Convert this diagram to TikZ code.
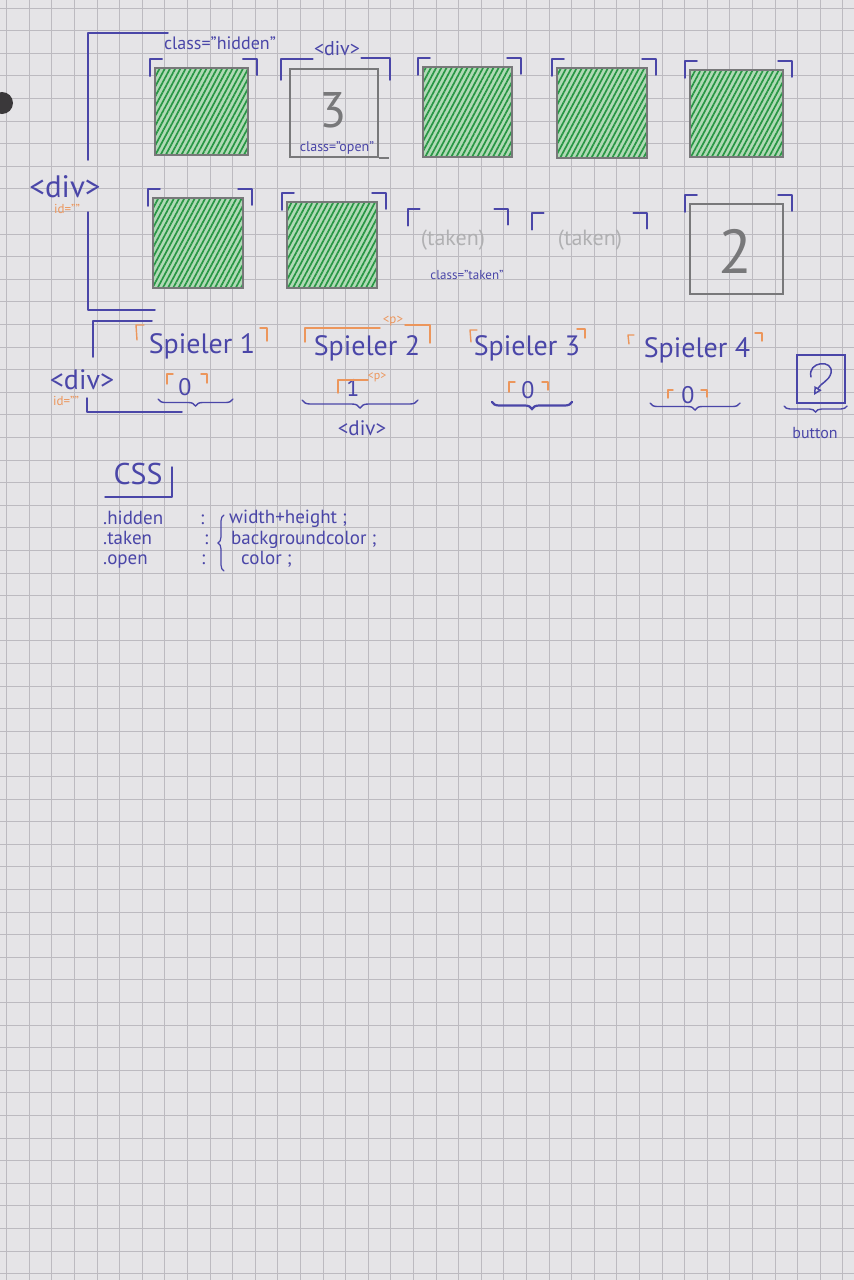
\documentclass[tikz,border=0pt]{standalone}
\usepackage{fontspec}
\setmainfont{PT Sans}
\usetikzlibrary{calc,patterns.meta,decorations.pathreplacing,arrows.meta}
\definecolor{paper}{RGB}{229,228,231}
\definecolor{gridline}{RGB}{188,186,192}
\definecolor{ink}{RGB}{74,70,168}
\definecolor{marker}{RGB}{236,150,92}
\definecolor{pencil}{RGB}{120,120,122}
\definecolor{faint}{RGB}{176,176,178}
\definecolor{greenfill}{RGB}{176,218,182}
\definecolor{greenline}{RGB}{40,150,68}
\definecolor{hole}{RGB}{58,56,58}

% corner ticks above a cell: left one and right one
\newcommand\cornerticks[1]{%
  \draw[bluemk] ($(#1.north west)+(-4,9)$) -- ++(0,-17) -- ++(12,0);
  \draw[bluemk] ($(#1.north east)+(-6,-8)$) -- ++(14,0) -- ++(0,16);
}

\begin{document}
\begin{tikzpicture}[x=1pt,y=-1pt,
  bluemk/.style={draw=ink, line width=1.5pt, line cap=round, line join=round},
  orangemk/.style={draw=marker, line width=1.4pt, line cap=round, line join=round},
  cell/.style={draw=pencil, line width=2pt, inner sep=0pt},
  hatched/.style={cell, pattern={Lines[angle=62,distance=4.6pt,line width=1.7pt]},
    pattern color=greenline, preaction={fill=greenfill}},
  blank/.style={inner sep=0pt},
  inktext/.style={text=ink, inner sep=1pt, font=\fontsize{#1}{#1}\selectfont},
  orangetext/.style={text=marker, inner sep=1pt, font=\fontsize{#1}{#1}\selectfont},
  penciltext/.style={text=pencil, inner sep=1pt, font=\fontsize{#1}{#1}\selectfont},
  fainttext/.style={text=faint, inner sep=1pt, font=\fontsize{#1}{#1}\selectfont},
  ruletext/.style={inktext=#1, inner sep=0pt, text height=0.68em, text depth=0.12em, anchor=west},
  brc/.style={draw=ink, line width=1.4pt, line cap=round, decorate,
    decoration={brace, amplitude=#1}},
  brc/.default=7pt,
]
% paper and squared grid
\useasboundingbox (0,0) rectangle (854,1280);
\fill[paper] (0,0) rectangle (854,1280);
\foreach \i in {0,...,37} \draw[gridline, line width=1.1pt] (6.7+22.6*\i,0) -- ++(0,1280);
\foreach \j in {0,...,56} \draw[gridline, line width=1.1pt] (0,8.1+22.6*\j) -- ++(854,0);
\fill[hole] (2,103) circle (11);

% ---- board: first row ----
\node[hatched, minimum width=93, minimum height=87] (b1) at (201.5,111.5) {};
\node[cell, minimum width=88, minimum height=88] (b2) at (334,113) {};
\node[hatched, minimum width=89, minimum height=90] (b3) at (467.5,112) {};
\node[hatched, minimum width=90, minimum height=90] (b4) at (602,113) {};
\node[hatched, minimum width=93, minimum height=87] (b5) at (736.5,113.5) {};
% ---- board: second row ----
\node[hatched, minimum width=90, minimum height=90] (b6) at (198,243) {};
\node[hatched, minimum width=90, minimum height=86] (b7) at (332,245) {};
\node[blank, minimum width=88, minimum height=56] (t1) at (456,245) {};
\node[blank, minimum width=103, minimum height=56] (t2) at (587.5,249) {};
\node[cell, minimum width=93, minimum height=90] (b8) at (736.5,249) {};

\cornerticks{b1}
\cornerticks{b3}
\cornerticks{b4}
\cornerticks{b5}
\cornerticks{b6}
\cornerticks{b7}
\cornerticks{t1}
\cornerticks{t2}
\cornerticks{b8}

% open cell with its div label
\node[penciltext=50] (three) at (333,110) {3};
\node[inktext=14] (openlbl) at (337,148) {class="open"};
\draw[cell] (b2.south east) -- ++(10,0);
\node[inktext=20] (divtop) at (337,49) {<div>};
\draw[bluemk] (281,80) -- (281,59) -- (divtop.west |- 0,59);
\draw[bluemk] (divtop.east |- 0,58) -- (390,58) -- (390,80);
\node[inktext=18] (hiddenlbl) at (220,43) {class="hidden"};

% taken cells and the found pair
\node[fainttext=22] (tk1) at (453,240) {(taken)};
\node[fainttext=22] (tk2) at (590,240) {(taken)};
\node[inktext=13] (takenlbl) at (467,275) {class="taken"};
\node[penciltext=62] (two) at (735,251) {2};

% outer div of the board
\node[inktext=31] (divA) at (65,187) {<div>};
\node[orangetext=13] (idA) at (67,209) {id=""};
\draw[bluemk] (168,33) -- (88,33) -- (88,160);
\draw[bluemk] (88,212) -- (88,310) -- (155,310);

% ---- players ----
\node[inktext=28] (divB) at (82,380) {<div>};
\node[orangetext=13] (idB) at (66,401) {id=""};
\draw[bluemk] (152,321) -- (93,321) -- (93,357);
\draw[bluemk] (87,398) -- (87,412) -- (182,412);

\node[inktext=28] (s1) at (202,346) {Spieler 1};
\draw[orangemk] (137,340) -- (136,325) -- (144,325);
\draw[orangemk] (260,328) -- (267,328) -- (267,341);
\node[inktext=24] (z1) at (185,387) {0};
\draw[orangemk] (167,384) -- (167,374) -- (173,374);
\draw[orangemk] (201,374) -- (207,374) -- (207,383);
\draw[brc] (233,399) -- (158,399);

\node[inktext=28] (s2) at (367,348) {Spieler 2};
\draw[orangemk] (305,342) -- (305,328) -- (380,328);
\node[orangetext=13] (p2) at (393,321) {<p>};
\draw[orangemk] (405,325) -- (430,325) -- (430,343);
\node[inktext=24] (one) at (353,388) {1};
\draw[orangemk] (338,393) -- (338,380) -- (368,380);
\node[orangetext=12] (p1) at (377,377) {<p>};
\draw[brc=8pt] (418,400) -- (302,400);
\node[inktext=21] (divC) at (362,428) {<div>};

\node[inktext=28] (s3) at (527,348) {Spieler 3};
\draw[orangemk] (471,342) -- (470,330) -- (477,330);
\draw[orangemk] (577,329) -- (585,329) -- (585,338);
\node[inktext=24] (z3) at (528,390) {0};
\draw[orangemk] (509,392) -- (509,382) -- (515,382);
\draw[orangemk] (542,382) -- (548,382) -- (548,390);
\draw[brc, line width=2.2pt] (572,402) -- (492,402);

\node[inktext=28] (s4) at (697,350) {Spieler 4};
\draw[orangemk] (629,344) -- (628,335) -- (634,335);
\draw[orangemk] (755,333) -- (762,333) -- (762,341);
\node[inktext=24] (z4) at (688,395) {0};
\draw[orangemk] (668,398) -- (668,390) -- (673,390);
\draw[orangemk] (701,390) -- (707,390) -- (707,397);
\draw[brc] (740,403) -- (650,403);

% reset button
\node[draw=ink, line width=1.6pt, minimum width=48, minimum height=48, inner sep=0pt] (btn) at (821,379) {};
\draw[draw=ink, line width=1.5pt, line cap=round, -{Triangle[open, length=8pt, width=8pt]}]
  (811,377) .. controls (807,361) and (834,359) .. (831,373)
  .. controls (829,381) and (821,383) .. (814,395);
\draw[brc=6pt] (847,406) -- (784,406);
\node[inktext=16] (btnlbl) at (815,433) {button};

% ---- stylesheet notes ----
\node[inktext=30] (css) at (138,474) {CSS};
\draw[bluemk] (105,497) -- (172,497) -- (172,467);
\node[ruletext=19] (r1) at (103,522) {.hidden};
\node[ruletext=19] (r2) at (103,542) {.taken};
\node[ruletext=19] (r3) at (103,562) {.open};
\node[ruletext=19] (c1) at (200,522) {:};
\node[ruletext=19] (c2) at (204,542) {:};
\node[ruletext=19] (c3) at (201,562) {:};
\draw[brc=6pt, line width=1.2pt] (224,571) -- (224,515);
\node[ruletext=19] (v1) at (229,521) {width+height ;};
\node[ruletext=19] (v2) at (231,542) {backgroundcolor ;};
\node[ruletext=19] (v3) at (241,562) {color ;};
\end{tikzpicture}
\end{document}
